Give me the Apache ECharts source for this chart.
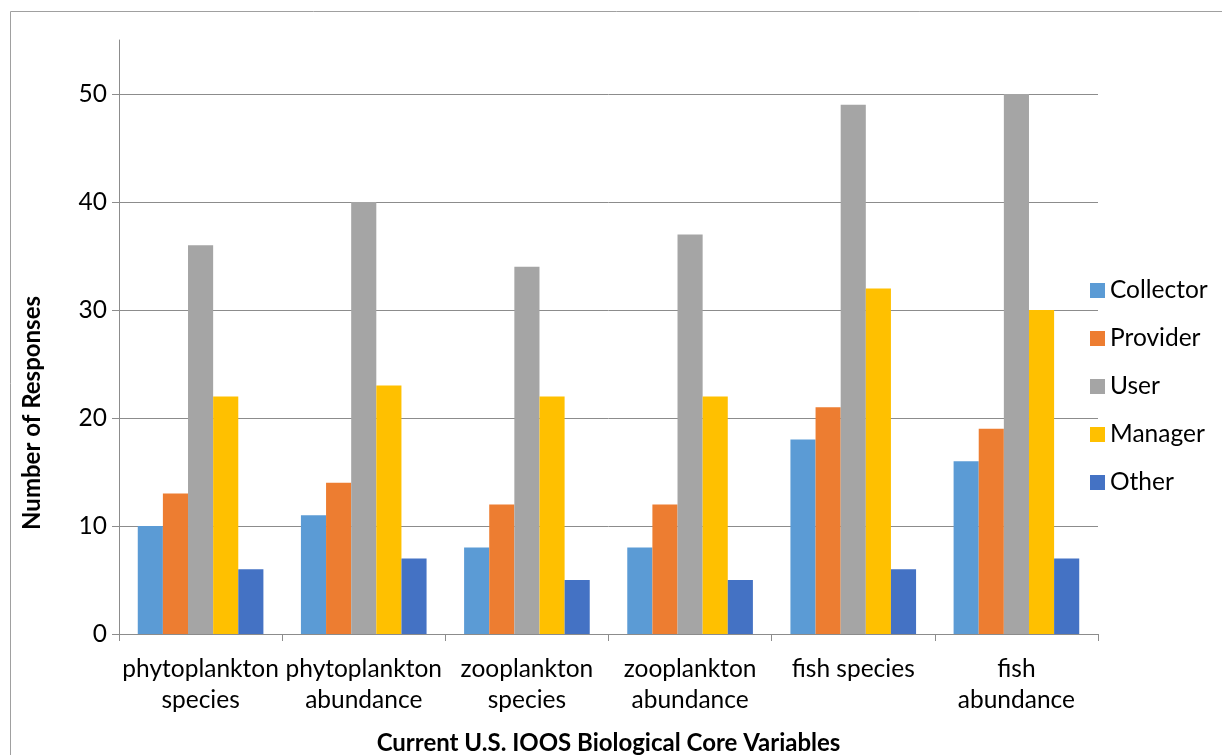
<!DOCTYPE html>
<html><head><meta charset="utf-8">
<script src="https://cdn.jsdelivr.net/npm/echarts@6/dist/echarts.min.js"></script>
<style>html,body{margin:0;padding:0;background:#fff;overflow:hidden}#c{width:1222px;height:755px}</style>
</head><body><div id="c"></div>
<script>
const categories = ['phytoplankton\nspecies','phytoplankton\nabundance','zooplankton\nspecies','zooplankton\nabundance','fish species','fish\nabundance'];
const collector = [10, 11, 8, 8, 18, 16];
const provider  = [13, 14, 12, 12, 21, 19];
const user      = [36, 40, 34, 37, 49, 50];
const manager   = [22, 23, 22, 22, 32, 30];
const other     = [6, 7, 5, 5, 6, 7];
const seriesNames = ['Collector','Provider','User','Manager','Other'];
const colors = ['#5B9BD5','#ED7D31','#A5A5A5','#FFC000','#4472C4'];
const values = [collector, provider, user, manager, other];
const FONT = 'Lato';
const chart = echarts.init(document.getElementById('c'));
chart.setOption({
  animation: false,
  textStyle: {fontFamily: FONT},
  grid: {left: 119, top: 40, width: 979, height: 594, outerBoundsMode: 'none', containLabel: false},
  legend: {
    orient: 'vertical', left: 1090, top: 278, itemGap: 23, padding: 0,
    itemWidth: 15, itemHeight: 15, icon: 'rect', itemStyle: {borderWidth: 0},
    textStyle: {fontSize: 24.5, color: '#000', fontFamily: FONT},
    data: seriesNames
  },
  xAxis: {
    type: 'category', data: categories,
    name: 'Current U.S. IOOS Biological Core Variables',
    nameLocation: 'middle', nameGap: 97,
    nameTextStyle: {fontSize: 24, fontWeight: 'bold', color: '#000', fontFamily: FONT},
    axisLine: {lineStyle: {color: '#8c8c8c', width: 1}},
    axisTick: {show: true, length: 7, lineStyle: {color: '#8c8c8c'}},
    axisLabel: {interval: 0, fontSize: 24.5, color: '#000', lineHeight: 31, margin: 20, fontFamily: FONT}
  },
  yAxis: {
    type: 'value', min: 0, max: 55, interval: 10,
    axisLine: {show: true, lineStyle: {color: '#8c8c8c'}},
    axisTick: {show: true, length: 7, lineStyle: {color: '#8c8c8c'}},
    axisLabel: {fontSize: 24.5, color: '#000', margin: 12, showMaxLabel: false, fontFamily: FONT},
    splitLine: {show: true, showMaxLine: false, lineStyle: {color: '#8c8c8c', width: 1}}
  },
  graphic: [
    {type: 'rect', shape: {x: 10.5, y: 11.5, width: 1300, height: 900}, style: {fill: 'none', stroke: '#a0a0a0', lineWidth: 1}, silent: true, z: -1},
    {type: 'text', left: 20, top: 296, rotation: Math.PI/2, style: {text: 'Number of Responses', font: 'bold 24px ' + FONT, fill: '#000'}}
  ],
  series: seriesNames.map((n, i) => ({
    name: n, type: 'bar', data: values[i],
    barGap: '0%', barCategoryGap: '23%',
    itemStyle: {color: colors[i]}
  }))
});
</script></body></html>
